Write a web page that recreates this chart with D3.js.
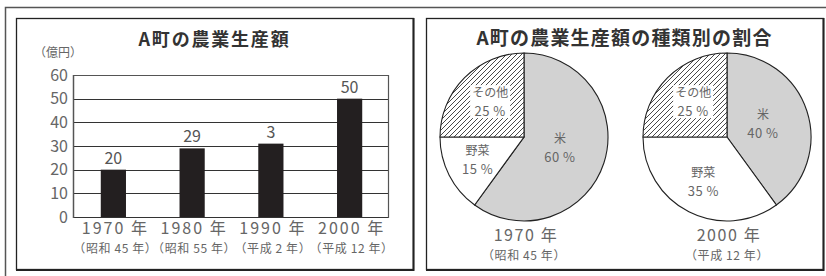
<!DOCTYPE html>
<html><head><meta charset="utf-8">
<script src="https://cdn.jsdelivr.net/npm/d3@7"></script>
<style>body{margin:0;background:#fff}svg{display:block}</style>
</head><body><svg id="c" width="826" height="276"></svg>
<script>
// ---- data ----
const barTitle = "A町の農業生産額";
const unitLabel = "（億円）";
const years = ["1970 年", "1980 年", "1990 年", "2000 年"];
const eraLabels = ["（昭和 45 年）", "（昭和 55 年）", "（平成 2 年）", "（平成 12 年）"];
const production = [20, 29, 31, 50];
const valueLabels = ["20", "29", "3", "50"];
const yTicks = [0, 10, 20, 30, 40, 50, 60];

const pieTitle = "A町の農業生産額の種類別の割合";
const pieCategories = ["米", "野菜", "その他"];
const share1970 = [60, 15, 25];
const share2000 = [40, 35, 25];
const pieYears = ["1970 年", "2000 年"];
const pieEras = ["（昭和 45 年）", "（平成 12 年）"];

// ---- drawing ----
const FONT = "'Noto Sans CJK JP','Noto Sans',sans-serif";
const svg = d3.select("#c").style("font-family", FONT);

// hatch pattern
const defs = svg.append("defs");
const pat = defs.append("pattern").attr("id", "hatch").attr("patternUnits", "userSpaceOnUse")
  .attr("width", 5).attr("height", 5);
pat.append("rect").attr("width", 5).attr("height", 5).attr("fill", "#fff");
pat.append("path").attr("d", "M0,5 L5,0 M-1,1 L1,-1 M4,6 L6,4")
  .attr("stroke", "#333").attr("stroke-width", 0.9);

// outer frame
svg.append("path").attr("d", "M5.5,276 V7.5 H826").attr("fill", "none")
  .attr("stroke", "#555").attr("stroke-width", 1.5);

function panel(x0, x1, y0, y1) {
  svg.append("rect").attr("x", x0 + 0.5).attr("y", y0 + 0.5)
    .attr("width", x1 - x0).attr("height", y1 - y0)
    .attr("fill", "#fff").attr("stroke", "#222").attr("stroke-width", 1.3);
  svg.append("path").attr("d", `M${x1 + 0.5},${y0} V${y1 + 1} H${x0}`)
    .attr("fill", "none").attr("stroke", "#222").attr("stroke-width", 2);
}
panel(16, 413, 18, 269);
panel(426, 823, 18, 269);

// ---- bar chart ----
const plot = { left: 73, right: 388, top: 75, bottom: 217 };
const x = d3.scaleBand().domain(years).range([plot.left, plot.right]).padding(0);
const y = d3.scaleLinear().domain([0, 60]).range([plot.bottom, plot.top]);

svg.append("text").attr("x", 214.5).attr("y", 46).attr("text-anchor", "middle")
  .attr("font-size", 18).attr("font-weight", "bold").attr("letter-spacing", 1.8)
  .attr("fill", "#333").text(barTitle);

svg.append("text").attr("x", 34).attr("y", 57).attr("font-size", 12)
  .attr("fill", "#666").text(unitLabel);

// grid
const g = svg.append("g");
g.selectAll("line.grid").data(yTicks).join("line")
  .attr("x1", plot.left).attr("x2", plot.right)
  .attr("y1", d => Math.round(y(d)) + 0.5).attr("y2", d => Math.round(y(d)) + 0.5)
  .attr("stroke", d => d === 60 ? "#555" : "#333").attr("stroke-width", 1.2);
g.append("line").attr("x1", plot.left + 0.5).attr("x2", plot.left + 0.5)
  .attr("y1", plot.top).attr("y2", plot.bottom + 1).attr("stroke", "#555").attr("stroke-width", 1.5);
g.append("line").attr("x1", plot.right + 0.5).attr("x2", plot.right + 0.5)
  .attr("y1", plot.top).attr("y2", plot.bottom + 1).attr("stroke", "#555").attr("stroke-width", 1.2);

// y tick labels
g.selectAll("text.yt").data(yTicks).join("text")
  .attr("x", 68).attr("y", d => y(d)).attr("dy", "0.36em")
  .attr("text-anchor", "end").attr("font-size", 16).attr("fill", "#666")
  .text(d => String(d));

// bars
const bw = x.bandwidth() * 0.32;
g.selectAll("rect.bar").data(production).join("rect")
  .attr("x", (d, i) => x(years[i]) + x.bandwidth() / 2 - bw / 2 + 1)
  .attr("y", d => y(d)).attr("width", bw).attr("height", d => plot.bottom - y(d))
  .attr("fill", "#231f20");

// value labels
g.selectAll("text.vl").data(production).join("text")
  .attr("x", (d, i) => x(years[i]) + x.bandwidth() / 2 + 1)
  .attr("y", d => y(d) - 6).attr("text-anchor", "middle")
  .attr("font-size", 16).attr("fill", "#555")
  .text((d, i) => valueLabels[i]);

// x labels
g.selectAll("text.xl").data(years).join("text")
  .attr("x", d => x(d) + x.bandwidth() / 2 + 3).attr("y", 234)
  .attr("text-anchor", "middle").attr("font-size", 16).attr("letter-spacing", 2)
  .attr("fill", "#666").text(d => d);
g.selectAll("text.el").data(eraLabels).join("text")
  .attr("x", (d, i) => x(years[i]) + x.bandwidth() / 2 + 3).attr("y", 253)
  .attr("text-anchor", "middle").attr("font-size", 12).attr("letter-spacing", 0.6)
  .attr("fill", "#666").text(d => d);

// ---- pie charts ----
svg.append("text").attr("x", 624.5).attr("y", 45).attr("text-anchor", "middle")
  .attr("font-size", 19).attr("font-weight", "bold").attr("letter-spacing", 1.2)
  .attr("fill", "#333").text(pieTitle);

const R = 84;
const fills = { "米": "#d2d2d2", "野菜": "#ffffff", "その他": "url(#hatch)" };
const labelRadius = { "米": 0.45, "野菜": 0.62, "その他": 0.57 };
const pie = d3.pie().sort(null).value(d => d);
const arc = d3.arc().innerRadius(0).outerRadius(R);
const centers = [524, 727];
const cy = 137;

[share1970, share2000].forEach((vals, k) => {
  const pg = svg.append("g").attr("transform", `translate(${centers[k]},${cy})`);
  const arcs = pie(vals);
  pg.selectAll("path").data(arcs).join("path")
    .attr("d", arc).attr("fill", (d, i) => fills[pieCategories[i]])
    .attr("stroke", "#222").attr("stroke-width", 1.1);
  arcs.forEach((a, i) => {
    const cat = pieCategories[i];
    const la = d3.arc().innerRadius(R * labelRadius[cat]).outerRadius(R * labelRadius[cat]);
    const [lx, ly] = la.centroid(a);
    const t = pg.append("g");
    const t1 = t.append("text").attr("x", lx).attr("y", ly - 6).attr("text-anchor", "middle")
      .attr("font-size", 12).attr("fill", "#666").text(cat);
    const t2 = t.append("text").attr("x", lx).attr("y", ly + 13).attr("text-anchor", "middle")
      .attr("font-size", 13).attr("letter-spacing", 0.5).attr("fill", "#666").text(vals[i] + " %");
    if (cat === "その他") {
      const b1 = t1.node().getBBox(), b2 = t2.node().getBBox();
      const x0 = Math.min(b1.x, b2.x) - 2, x1 = Math.max(b1.x + b1.width, b2.x + b2.width) + 2;
      t.insert("rect", "text").attr("x", x0).attr("y", b1.y + 2)
        .attr("width", x1 - x0).attr("height", b2.y + b2.height - b1.y - 4).attr("fill", "#fff");
    }
  });
  svg.append("text").attr("x", centers[k] + 2).attr("y", 241).attr("text-anchor", "middle")
    .attr("font-size", 16).attr("letter-spacing", 1.6).attr("fill", "#666").text(pieYears[k]);
  svg.append("text").attr("x", centers[k]).attr("y", 260).attr("text-anchor", "middle")
    .attr("font-size", 12).attr("letter-spacing", 0.6).attr("fill", "#666").text(pieEras[k]);
});
</script></body></html>
